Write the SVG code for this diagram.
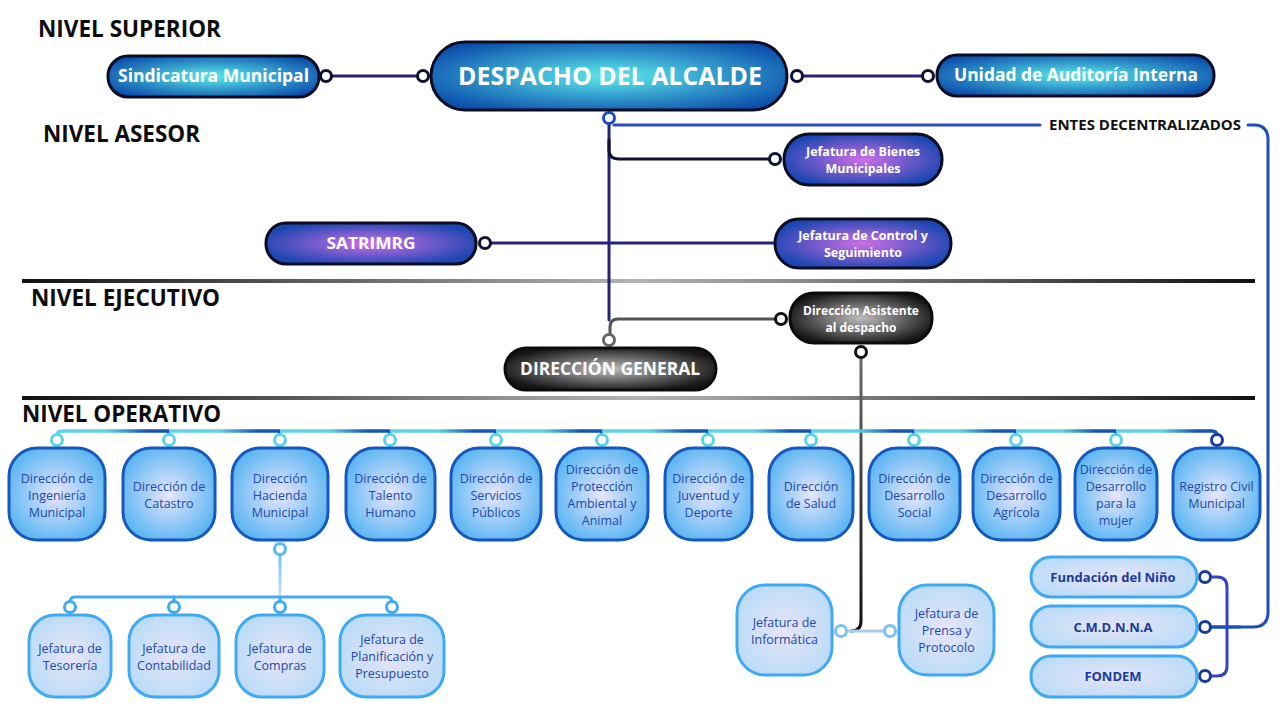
<svg xmlns="http://www.w3.org/2000/svg" width="1280" height="712" viewBox="0 0 1280 712">
<style>
.lvl{font-family:"Open Sans","Liberation Sans",sans-serif;font-weight:700;font-size:23px;fill:#0d0d0d}
.wt{font-family:"Open Sans","Liberation Sans",sans-serif;font-weight:700;fill:#fff;text-anchor:middle}
.op{font-family:"Open Sans","Liberation Sans",sans-serif;font-size:12.5px;fill:#1d4aa6;text-anchor:middle}
.en{font-family:"Open Sans","Liberation Sans",sans-serif;font-weight:700;font-size:13px;fill:#1a3a9a;text-anchor:middle}
.top{fill:url(#gTop);stroke:#0c0c22;stroke-width:3}
.pur{fill:url(#gPur);stroke:#0c0c22;stroke-width:3}
.gry{fill:url(#gGry);stroke:#0c0c0c;stroke-width:3}
.opb{fill:url(#gOp);stroke:#1658bd;stroke-width:3}
.sub{fill:url(#gSub);stroke:#3fa9f5;stroke-width:3}
.c{fill:#fff;stroke-width:3}
.ln{fill:none;stroke-width:3;stroke-linecap:round}
</style>
<defs>
<radialGradient id="gTop" cx="50%" cy="50%" r="60%"><stop offset="0" stop-color="#62e2e6"/><stop offset="0.2" stop-color="#4ccde0"/><stop offset="1" stop-color="#0c4eac"/></radialGradient>
<radialGradient id="gPur" cx="50%" cy="50%" r="55%"><stop offset="0" stop-color="#cc70e6"/><stop offset="1" stop-color="#1c46b2"/></radialGradient>
<radialGradient id="gGry" cx="50%" cy="50%" r="55%"><stop offset="0" stop-color="#bdbdbd"/><stop offset="1" stop-color="#161616"/></radialGradient>
<radialGradient id="gOp" cx="50%" cy="50%" r="55%"><stop offset="0" stop-color="#e8e6fb"/><stop offset="1" stop-color="#5cb6f3"/></radialGradient>
<radialGradient id="gSub" cx="50%" cy="50%" r="55%"><stop offset="0" stop-color="#e6e4f7"/><stop offset="1" stop-color="#bcdcf8"/></radialGradient>
<linearGradient id="gSep" x1="0" y1="0" x2="1" y2="0"><stop offset="0" stop-color="#111"/><stop offset="0.5" stop-color="#b4b4b4"/><stop offset="1" stop-color="#111"/></linearGradient>
<linearGradient id="gBus" gradientUnits="userSpaceOnUse" x1="57" y1="0" x2="1217" y2="0">
<stop offset="0" stop-color="#5ad4e4"/><stop offset=".0435" stop-color="#5ad4e4"/><stop offset=".0773" stop-color="#1652b8"/><stop offset=".0966" stop-color="#1652b8"/>
<stop offset=".0966" stop-color="#5ad4e4"/><stop offset=".1396" stop-color="#5ad4e4"/><stop offset=".1731" stop-color="#1652b8"/><stop offset=".1922" stop-color="#1652b8"/>
<stop offset=".1922" stop-color="#5ad4e4"/><stop offset=".2349" stop-color="#5ad4e4"/><stop offset=".2681" stop-color="#1652b8"/><stop offset=".2871" stop-color="#1652b8"/>
<stop offset=".2871" stop-color="#5ad4e4"/><stop offset=".3282" stop-color="#5ad4e4"/><stop offset=".3601" stop-color="#1652b8"/><stop offset=".3784" stop-color="#1652b8"/>
<stop offset=".3784" stop-color="#5ad4e4"/><stop offset=".4195" stop-color="#5ad4e4"/><stop offset=".4515" stop-color="#1652b8"/><stop offset=".4698" stop-color="#1652b8"/>
<stop offset=".4698" stop-color="#5ad4e4"/><stop offset=".5109" stop-color="#5ad4e4"/><stop offset=".5429" stop-color="#1652b8"/><stop offset=".5612" stop-color="#1652b8"/>
<stop offset=".5612" stop-color="#5ad4e4"/><stop offset=".6012" stop-color="#5ad4e4"/><stop offset=".6322" stop-color="#1652b8"/><stop offset=".65" stop-color="#1652b8"/>
<stop offset=".65" stop-color="#5ad4e4"/><stop offset=".69" stop-color="#5ad4e4"/><stop offset=".721" stop-color="#1652b8"/><stop offset=".7388" stop-color="#1652b8"/>
<stop offset=".7388" stop-color="#5ad4e4"/><stop offset=".7784" stop-color="#5ad4e4"/><stop offset=".8091" stop-color="#1652b8"/><stop offset=".8267" stop-color="#1652b8"/>
<stop offset=".8267" stop-color="#5ad4e4"/><stop offset=".8655" stop-color="#5ad4e4"/><stop offset=".8957" stop-color="#1652b8"/><stop offset=".9129" stop-color="#1652b8"/>
<stop offset=".9129" stop-color="#5ad4e4"/><stop offset=".9521" stop-color="#5ad4e4"/><stop offset=".9826" stop-color="#1652b8"/><stop offset="1" stop-color="#1652b8"/>
</linearGradient>
<linearGradient id="gSubV" gradientUnits="userSpaceOnUse" x1="0" y1="555" x2="0" y2="598"><stop offset="0" stop-color="#6cc0f4"/><stop offset="1" stop-color="#d6e6fa"/></linearGradient>
<linearGradient id="gGryV" gradientUnits="userSpaceOnUse" x1="0" y1="357" x2="0" y2="631"><stop offset="0" stop-color="#6a6a6a"/><stop offset="1" stop-color="#111"/></linearGradient>
</defs>
<rect width="1280" height="712" fill="#fff"/>

<g id="levels">
<text class="lvl" x="38" y="37" textLength="183" lengthAdjust="spacingAndGlyphs">NIVEL SUPERIOR</text>
<text class="lvl" x="43" y="142" textLength="157" lengthAdjust="spacingAndGlyphs">NIVEL ASESOR</text>
<text class="lvl" x="31" y="306" textLength="189" lengthAdjust="spacingAndGlyphs">NIVEL EJECUTIVO</text>
<text class="lvl" x="22" y="422" textLength="199" lengthAdjust="spacingAndGlyphs">NIVEL OPERATIVO</text>
<rect x="22" y="279" width="1233" height="4" fill="url(#gSep)"/>
<rect x="22" y="396" width="1233" height="4" fill="url(#gSep)"/>
</g>

<g id="connectors">
<path class="ln" d="M331,76 H418" stroke="#23236e"/>
<path class="ln" d="M802,76 H923" stroke="#23236e"/>
<path class="ln" d="M614,125 H1040" stroke="#2a4cc0"/>
<path class="ln" d="M1248,125 H1254 Q1268,125 1268,140 V612 Q1268,627 1253,627 H1211" stroke="#1d4fb8"/>
<path class="ln" d="M609,123 V320" stroke="#22227a"/>
<path class="ln" d="M609,140 V150 Q609,159 619,159 H769" stroke="#101030"/>
<path class="ln" d="M490,243 H776" stroke="#22227a"/>
<path class="ln" d="M776,319 H618 Q610,319 610,327 V334" stroke="#555"/>
<path class="ln" d="M861,357 V621 Q861,631 851,631" stroke="url(#gGryV)"/>
<path class="ln" d="M846,631 H885" stroke="#a8cdf2"/>
<path class="ln" style="stroke-width:3.5" d="M57,436 Q57,431 62,431 H1212 Q1217,431 1217,436 M169,431 V436 M280,431 V436 M390,431 V436 M496,431 V436 M602,431 V436 M708,431 V436 M811,431 V436 M914,431 V436 M1016,431 V436 M1116,431 V436" stroke="url(#gBus)"/>
<path class="ln" d="M280,555 V598" stroke="url(#gSubV)"/>
<path class="ln" d="M70,602 Q70,597 75,597 H387 Q392,597 392,602" stroke="#45abf4"/>
<path class="ln" d="M174,597 V602 M280,597 V602" stroke="#45abf4"/>
<path class="ln" d="M1210,577 H1217 Q1227,577 1227,587 V666 Q1227,676 1217,676 H1210" stroke="#3544c0"/>
<path class="ln" d="M1210,627 H1240" stroke="#1d4fb8"/>
<g class="c">
<circle cx="326" cy="76" r="5.5" stroke="#101030"/>
<circle cx="423" cy="76" r="5.5" stroke="#101030"/>
<circle cx="797" cy="76" r="5.5" stroke="#101030"/>
<circle cx="928" cy="76" r="5.5" stroke="#101030"/>
<circle cx="609" cy="118" r="5.5" stroke="#1d4fb8"/>
<circle cx="775" cy="159" r="5.5" stroke="#101030"/>
<circle cx="485" cy="243" r="5.5" stroke="#101030"/>
<circle cx="781" cy="243" r="5.5" stroke="#101030"/>
<circle cx="781" cy="319" r="5.5" stroke="#111"/>
<circle cx="609" cy="340" r="5.5" stroke="#666"/>
<circle cx="861" cy="352" r="5.5" stroke="#111"/>
<circle cx="841" cy="631" r="5.5" stroke="#7cc0f4"/>
<circle cx="890" cy="631" r="5.5" stroke="#7cc0f4"/>
<circle cx="280" cy="549" r="5.5" stroke="#5ab8f2"/>
<circle cx="70" cy="607" r="5.5" stroke="#3fa9f5"/>
<circle cx="174" cy="607" r="5.5" stroke="#3fa9f5"/>
<circle cx="280" cy="607" r="5.5" stroke="#3fa9f5"/>
<circle cx="392" cy="607" r="5.5" stroke="#3fa9f5"/>
<circle cx="1205" cy="577" r="5.5" stroke="#1a3a9a"/>
<circle cx="1205" cy="627" r="5.5" stroke="#1a3a9a"/>
<circle cx="1205" cy="676" r="5.5" stroke="#1a3a9a"/>
<g stroke="#5ad4e4">
<circle cx="57" cy="440" r="5.5"/><circle cx="169" cy="440" r="5.5"/><circle cx="280" cy="440" r="5.5"/><circle cx="390" cy="440" r="5.5"/><circle cx="496" cy="440" r="5.5"/><circle cx="602" cy="440" r="5.5"/><circle cx="708" cy="440" r="5.5"/><circle cx="811" cy="440" r="5.5"/><circle cx="914" cy="440" r="5.5"/><circle cx="1016" cy="440" r="5.5"/><circle cx="1116" cy="440" r="5.5"/>
</g>
<circle cx="1217" cy="440" r="5.5" stroke="#1a3a9a"/>
</g>
<text x="1049" y="130" textLength="192" lengthAdjust="spacingAndGlyphs" style="font-family:'Open Sans','Liberation Sans',sans-serif;font-weight:700;font-size:15px;fill:#111">ENTES DECENTRALIZADOS</text>
</g>

<g id="sindicatura"><rect class="top" x="108" y="56" width="211" height="41" rx="20"/><text class="wt" x="213.5" y="82" font-size="17" textLength="191" lengthAdjust="spacingAndGlyphs">Sindicatura Municipal</text></g>
<g id="despacho"><rect class="top" x="431" y="42" width="356" height="68" rx="34"/><text class="wt" x="610" y="85" font-size="25" textLength="304" lengthAdjust="spacingAndGlyphs">DESPACHO DEL ALCALDE</text></g>
<g id="auditoria"><rect class="top" x="937" y="55" width="277" height="41" rx="20"/><text class="wt" x="1076" y="81" font-size="17" textLength="244" lengthAdjust="spacingAndGlyphs">Unidad de Auditoría Interna</text></g>
<g id="bienes"><rect class="pur" x="784" y="134" width="158" height="51" rx="25"/><text class="wt" font-size="12.5"><tspan x="863" y="156">Jefatura de Bienes</tspan><tspan x="863" y="173">Municipales</tspan></text></g>
<g id="satrimrg"><rect class="pur" x="266" y="223" width="210" height="41" rx="20"/><text class="wt" x="371" y="249" font-size="16" textLength="89" lengthAdjust="spacingAndGlyphs">SATRIMRG</text></g>
<g id="control"><rect class="pur" x="775" y="219" width="176" height="49" rx="24"/><text class="wt" font-size="12.5"><tspan x="863" y="240">Jefatura de Control y</tspan><tspan x="863" y="257">Seguimiento</tspan></text></g>
<g id="asistente"><rect class="gry" x="790" y="293" width="142" height="50" rx="24"/><text class="wt" font-size="12"><tspan x="861" y="315">Dirección Asistente</tspan><tspan x="861" y="332">al despacho</tspan></text></g>
<g id="general"><rect class="gry" x="505" y="348" width="211" height="42" rx="21"/><text class="wt" x="610" y="375" font-size="17" textLength="180" lengthAdjust="spacingAndGlyphs">DIRECCIÓN GENERAL</text></g>

<g id="op1"><rect class="opb" x="9" y="448" width="96" height="92" rx="28"/><text class="op"><tspan x="57" y="483">Dirección de</tspan><tspan x="57" y="500">Ingeniería</tspan><tspan x="57" y="517">Municipal</tspan></text></g>
<g id="op2"><rect class="opb" x="123" y="448" width="92" height="92" rx="28"/><text class="op"><tspan x="169" y="491">Dirección de</tspan><tspan x="169" y="508">Catastro</tspan></text></g>
<g id="op3"><rect class="opb" x="232" y="448" width="96" height="92" rx="28"/><text class="op"><tspan x="280" y="483">Dirección</tspan><tspan x="280" y="500">Hacienda</tspan><tspan x="280" y="517">Municipal</tspan></text></g>
<g id="op4"><rect class="opb" x="346" y="448" width="89" height="92" rx="28"/><text class="op"><tspan x="390.5" y="483">Dirección de</tspan><tspan x="390.5" y="500">Talento</tspan><tspan x="390.5" y="517">Humano</tspan></text></g>
<g id="op5"><rect class="opb" x="451" y="448" width="90" height="92" rx="28"/><text class="op"><tspan x="496" y="483">Dirección de</tspan><tspan x="496" y="500">Servicios</tspan><tspan x="496" y="517">Públicos</tspan></text></g>
<g id="op6"><rect class="opb" x="556" y="448" width="92" height="92" rx="28"/><text class="op"><tspan x="602" y="474">Dirección de</tspan><tspan x="602" y="491">Protección</tspan><tspan x="602" y="508">Ambiental y</tspan><tspan x="602" y="525">Animal</tspan></text></g>
<g id="op7"><rect class="opb" x="665" y="448" width="87" height="92" rx="28"/><text class="op"><tspan x="708.5" y="483">Dirección de</tspan><tspan x="708.5" y="500">Juventud y</tspan><tspan x="708.5" y="517">Deporte</tspan></text></g>
<g id="op8"><rect class="opb" x="769" y="448" width="84" height="92" rx="28"/><text class="op"><tspan x="811" y="491">Dirección</tspan><tspan x="811" y="508">de Salud</tspan></text></g>
<g id="op9"><rect class="opb" x="869" y="448" width="91" height="92" rx="28"/><text class="op"><tspan x="914.5" y="483">Dirección de</tspan><tspan x="914.5" y="500">Desarrollo</tspan><tspan x="914.5" y="517">Social</tspan></text></g>
<g id="op10"><rect class="opb" x="973" y="448" width="87" height="92" rx="28"/><text class="op"><tspan x="1016.5" y="483">Dirección de</tspan><tspan x="1016.5" y="500">Desarrollo</tspan><tspan x="1016.5" y="517">Agrícola</tspan></text></g>
<g id="op11"><rect class="opb" x="1075" y="448" width="82" height="92" rx="28"/><text class="op"><tspan x="1116" y="474">Dirección de</tspan><tspan x="1116" y="491">Desarrollo</tspan><tspan x="1116" y="508">para la</tspan><tspan x="1116" y="525">mujer</tspan></text></g>
<g id="op12"><rect class="opb" x="1173" y="448" width="87" height="92" rx="28"/><text class="op"><tspan x="1216.5" y="491">Registro Civil</tspan><tspan x="1216.5" y="508">Municipal</tspan></text></g>

<g id="tesoreria"><rect class="sub" x="29" y="615" width="82" height="82" rx="26"/><text class="op"><tspan x="70" y="653">Jefatura de</tspan><tspan x="70" y="670">Tesorería</tspan></text></g>
<g id="contabilidad"><rect class="sub" x="129" y="615" width="90" height="82" rx="26"/><text class="op"><tspan x="174" y="653">Jefatura de</tspan><tspan x="174" y="670">Contabilidad</tspan></text></g>
<g id="compras"><rect class="sub" x="236" y="615" width="88" height="82" rx="26"/><text class="op"><tspan x="280" y="653">Jefatura de</tspan><tspan x="280" y="670">Compras</tspan></text></g>
<g id="planificacion"><rect class="sub" x="340" y="615" width="104" height="82" rx="26"/><text class="op"><tspan x="392" y="644">Jefatura de</tspan><tspan x="392" y="661">Planificación y</tspan><tspan x="392" y="678">Presupuesto</tspan></text></g>
<g id="informatica"><rect class="sub" x="737" y="585" width="95" height="90" rx="28"/><text class="op"><tspan x="784.5" y="627">Jefatura de</tspan><tspan x="784.5" y="644">Informática</tspan></text></g>
<g id="prensa"><rect class="sub" x="899" y="585" width="95" height="90" rx="28"/><text class="op"><tspan x="946.5" y="618">Jefatura de</tspan><tspan x="946.5" y="635">Prensa y</tspan><tspan x="946.5" y="652">Protocolo</tspan></text></g>
<g id="fundacion"><rect class="sub" x="1031" y="557" width="166" height="40" rx="20"/><text class="en" x="1113" y="582">Fundación del Niño</text></g>
<g id="cmdnna"><rect class="sub" x="1031" y="606" width="166" height="41" rx="20"/><text class="en" x="1113" y="632">C.M.D.N.N.A</text></g>
<g id="fondem"><rect class="sub" x="1031" y="656" width="166" height="41" rx="20"/><text class="en" x="1113" y="681">FONDEM</text></g>
</svg>
